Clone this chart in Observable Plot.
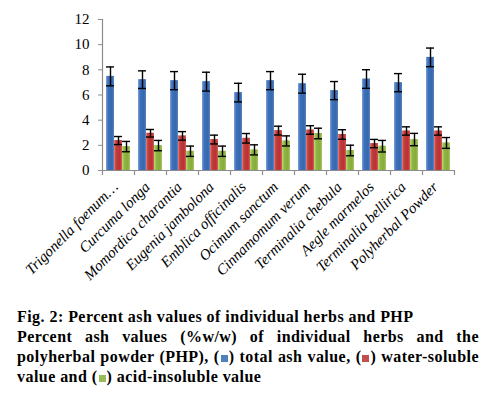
<!DOCTYPE html>
<html><head><meta charset="utf-8">
<script src="https://cdn.jsdelivr.net/npm/d3@7"></script>
<script src="https://cdn.jsdelivr.net/npm/@observablehq/plot@0.6"></script>
<style>
body{margin:0;background:#fff;}
#chart svg{display:block;}
#chart svg, #chart svg text{font-family:"Liberation Serif","Times New Roman",serif !important;}
#caption{margin-top:7px;margin-left:17px;width:462px;font-family:"Liberation Serif","Times New Roman",serif;font-weight:bold;font-size:16px;line-height:20px;color:#000;letter-spacing:0.45px;}
.j{text-align:justify;text-align-last:justify;}
.sq{display:inline-block;width:7px;height:7px;vertical-align:0px;margin:0 1px;}
</style></head><body>
<div id="chart"></div>
<div id="caption">
<div>Fig. 2: Percent ash values of individual herbs and PHP</div>
<div class="j">Percent ash values (%w/w) of individual herbs and the</div>
<div class="j">polyherbal powder (PHP), (<span class="sq" style="background:#4F81BD"></span>) total ash value, (<span class="sq" style="background:#C0504D"></span>) water-soluble</div>
<div>value and (<span class="sq" style="background:#9BBB59"></span>) acid-insoluble value</div>
</div>
<script>
const categories = ["Trigonella foenum…","Curcuma longa","Momordica charantia","Eugenia jambolona","Emblica officinalis","Ocimum sanctum","Cinnamomum verum","Terminalia chebula","Aegle marmelos","Terminalia bellirica","Polyherbal Powder"];
const totalAsh = [7.48, 7.22, 7.14, 7.06, 6.19, 7.14, 6.90, 6.35, 7.27, 6.98, 8.99];
const totalErr = [0.75, 0.70, 0.72, 0.75, 0.74, 0.72, 0.75, 0.72, 0.74, 0.72, 0.74];
const waterSol = [2.38, 2.96, 2.75, 2.46, 2.56, 3.17, 3.22, 2.86, 2.14, 3.14, 3.14];
const waterErr = [0.32, 0.30, 0.34, 0.35, 0.38, 0.35, 0.34, 0.38, 0.33, 0.33, 0.33];
const acidInsol = [1.90, 1.98, 1.53, 1.53, 1.64, 2.35, 2.94, 1.59, 1.93, 2.46, 2.19];
const acidErr = [0.41, 0.41, 0.41, 0.41, 0.40, 0.40, 0.42, 0.42, 0.46, 0.49, 0.43];
const yTicks = [0, 2, 4, 6, 8, 10, 12];

const rows = categories.map((c, i) => ({cat: c, total: totalAsh[i], tErr: totalErr[i], water: waterSol[i], wErr: waterErr[i], acid: acidInsol[i], aErr: acidErr[i]}));

const series = [
  {key: "total", err: "tErr", fill: "url(#gBlue)", dx: -8},
  {key: "water", err: "wErr", fill: "url(#gRed)", dx: 0},
  {key: "acid", err: "aErr", fill: "url(#gGreen)", dx: 8}
];

const marks = [];
for (const s of series) {
  marks.push(Plot.barY(rows, {x: "cat", y: s.key, fill: s.fill, dx: s.dx, style: "filter:url(#shadow)"}));
}
for (const s of series) {
  marks.push(Plot.ruleX(rows, {x: "cat", y1: d => d[s.key] - d[s.err], y2: d => d[s.key] + d[s.err], dx: s.dx, stroke: "#000", strokeWidth: 1.4}));
  marks.push(Plot.tickY(rows, {x: "cat", y: d => d[s.key] + d[s.err], dx: s.dx, stroke: "#000", strokeWidth: 1.4}));
  marks.push(Plot.tickY(rows, {x: "cat", y: d => d[s.key] - d[s.err], dx: s.dx, stroke: "#000", strokeWidth: 1.4}));
}
marks.push(Plot.ruleY([0], {stroke: "#8c8c8c", strokeWidth: 1.2}));
marks.push(Plot.ruleX([categories[0]], {y1: 0, y2: 12, dx: -16, stroke: "#8c8c8c", strokeWidth: 1.2}));
marks.push(Plot.ruleX([categories[0]], {y1: 0, y2: -0.4, dx: -16, stroke: "#8c8c8c", strokeWidth: 1.2}));
marks.push(Plot.ruleX(categories, {y1: 0, y2: -0.4, dx: 16, stroke: "#8c8c8c", strokeWidth: 1.2}));
marks.push(Plot.axisY({ticks: yTicks, tickSize: 4, tickPadding: 9, stroke: "#8c8c8c", fontSize: 15, fill: "#000"}));
marks.push(Plot.axisX({tickSize: 0, tickRotate: -45, tickPadding: 14, fontSize: 15, fontStyle: "italic", fill: "#000", dx: -3}));

const plot = Plot.plot({
  width: 488, height: 300,
  marginLeft: 102, marginRight: 34, marginTop: 19, marginBottom: 130,
  style: {fontFamily: "Liberation Serif", background: "#fff", color: "#000"},
  x: {domain: categories, paddingInner: 0.75, paddingOuter: 0.375, label: null, axis: null},
  y: {domain: [0, 12], label: null, axis: null},
  marks
});

d3.select(plot).insert("defs", ":first-child").html(`
<linearGradient id="gBlue" x1="0" x2="1" y1="0" y2="0">
 <stop offset="0" stop-color="#7fa6da"/><stop offset="0.25" stop-color="#3f72ba"/><stop offset="0.75" stop-color="#3467ad"/><stop offset="1" stop-color="#5a86c4"/>
</linearGradient>
<linearGradient id="gRed" x1="0" x2="1" y1="0" y2="0">
 <stop offset="0" stop-color="#e58583"/><stop offset="0.25" stop-color="#c43c3a"/><stop offset="0.75" stop-color="#b73432"/><stop offset="1" stop-color="#d0605e"/>
</linearGradient>
<linearGradient id="gGreen" x1="0" x2="1" y1="0" y2="0">
 <stop offset="0" stop-color="#c2dc8a"/><stop offset="0.25" stop-color="#93b746"/><stop offset="0.75" stop-color="#87ab3a"/><stop offset="1" stop-color="#a9c868"/>
</linearGradient>
<filter id="shadow" x="-50%" y="-20%" width="200%" height="140%">
 <feDropShadow dx="1" dy="0" stdDeviation="1.2" flood-color="#000" flood-opacity="0.35"/>
</filter>`);

document.getElementById("chart").appendChild(plot);
</script>
</body></html>
